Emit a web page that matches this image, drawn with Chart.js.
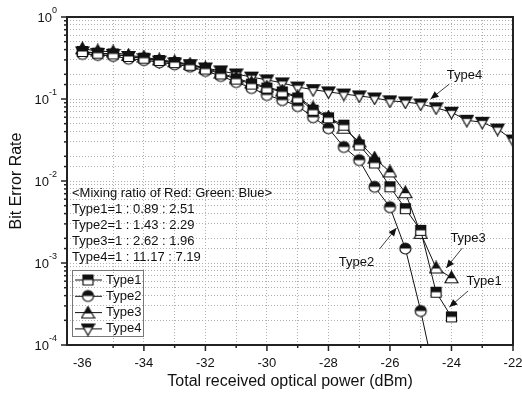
<html>
  <head>
    <script src="https://cdn.jsdelivr.net/npm/chart.js@4.4.0/dist/chart.umd.min.js"></script>
  </head>
  <body style="margin:0;background:#fff">
    <canvas id="myChart" width="522" height="396"></canvas>
    <script>
      // received power (dBm), 0.5 dB steps
      const power = [-36, -35.5, -35, -34.5, -34, -33.5, -33, -32.5, -32, -31.5, -31, -30.5, -30, -29.5, -29,
                     -28.5, -28, -27.5, -27, -26.5, -26, -25.5, -25, -24.5, -24, -23.5, -23, -22.5, -22];

      // bit error rate
      const type1 = [0.38, 0.362, 0.355, 0.33, 0.315, 0.295, 0.278, 0.258, 0.232, 0.202, 0.175, 0.152, 0.136, 0.122, 0.103,
                     0.073, 0.059, 0.048, 0.0275, 0.0166, 0.0085, 0.0046, 0.0025, 0.00044, 0.00022];
      const type2 = [0.355, 0.345, 0.335, 0.31, 0.298, 0.28, 0.265, 0.248, 0.22, 0.191, 0.161, 0.136, 0.112, 0.097, 0.082,
                     0.060, 0.044, 0.026, 0.018, 0.0085, 0.0048, 0.0015, 0.00026, 0.000035];
      const type3 = [0.41, 0.385, 0.375, 0.34, 0.325, 0.30, 0.285, 0.265, 0.239, 0.207, 0.18, 0.157, 0.14, 0.125, 0.106,
                     0.078, 0.060, 0.044, 0.030, 0.019, 0.0129, 0.0072, 0.0023, 0.00087, 0.00066];
      const type4 = [0.375, 0.36, 0.35, 0.33, 0.31, 0.29, 0.275, 0.262, 0.239, 0.22, 0.202, 0.185, 0.171, 0.157, 0.14,
                     0.13, 0.122, 0.115, 0.109, 0.103, 0.095, 0.092, 0.087, 0.078, 0.069, 0.055, 0.052, 0.043, 0.0316];

      const seriesNames = ["Type1", "Type2", "Type3", "Type4"];

      // tick labels
      const xTickValues = [-36, -34, -32, -30, -28, -26, -24, -22];
      const xTickLabels = ["-36", "-34", "-32", "-30", "-28", "-26", "-24", "-22"];
      const yTickValues = [1, 0.1, 0.01, 0.001, 0.0001];
      const yTickExps = ["0", "-1", "-2", "-3", "-4"];

      const ratioLines = ["<Mixing ratio of Red: Green: Blue>", "Type1=1 : 0.89 : 2.51", "Type2=1 : 1.43 : 2.29",
                          "Type3=1 : 2.62 : 1.96", "Type4=1 : 11.17 : 7.19"];

      // callouts: label, text position, arrow from, arrow to (data coords)
      const callouts = [
        {text: "Type4", at: [-23.58, 0.196], from: [-24.07, 0.152], to: [-24.68, 0.1]},
        {text: "Type2", at: [-27.09, 0.00103], from: [-26.34, 0.00148], to: [-25.79, 0.00267]},
        {text: "Type3", at: [-23.46, 0.00202], from: [-23.65, 0.00152], to: [-24.17, 0.00087]},
        {text: "Type1", at: [-22.94, 0.00059], from: [-23.46, 0.000456], to: [-24.07, 0.00029]}
      ];

      const FONT = "'Liberation Sans', Arial, sans-serif";
      const INK = "#111";

      // half filled markers (top part black)
      function makeMarker(shape) {
        const s = 15, c = document.createElement("canvas");
        c.width = s; c.height = s;
        const g = c.getContext("2d");
        g.translate(s / 2, s / 2);
        g.beginPath();
        let split = 0;
        if (shape === "square") { g.rect(-5, -5, 10, 10); split = 0; }
        else if (shape === "circle") { g.arc(0, 0, 5.5, 0, Math.PI * 2); split = 0; }
        else if (shape === "up") { g.moveTo(0, -6.5); g.lineTo(6.5, 5); g.lineTo(-6.5, 5); g.closePath(); split = 0.5; }
        else { g.moveTo(-6.5, -5); g.lineTo(6.5, -5); g.lineTo(0, 6.5); g.closePath(); split = -1.3; }
        g.fillStyle = "#fff"; g.fill();
        g.save(); g.clip();
        g.fillStyle = INK; g.fillRect(-8, -8, 16, 8 + split);
        g.restore();
        g.lineWidth = 1.2; g.strokeStyle = INK; g.stroke();
        return c;
      }
      const markers = [makeMarker("square"), makeMarker("circle"), makeMarker("up"), makeMarker("down")];

      function toPoints(vals) {
        return vals.map((v, i) => ({x: power[i], y: v}));
      }

      function arrow(ctx, x1, y1, x2, y2) {
        ctx.beginPath(); ctx.moveTo(x1, y1); ctx.lineTo(x2, y2); ctx.stroke();
        const ang = Math.atan2(y2 - y1, x2 - x1), L = 8, W = 3.5;
        ctx.beginPath();
        ctx.moveTo(x2, y2);
        ctx.lineTo(x2 - L * Math.cos(ang) + W * Math.sin(ang), y2 - L * Math.sin(ang) - W * Math.cos(ang));
        ctx.lineTo(x2 - L * Math.cos(ang) - W * Math.sin(ang), y2 - L * Math.sin(ang) + W * Math.cos(ang));
        ctx.closePath(); ctx.fill();
      }

      // frame, ticks, labels, text block, legend, callouts
      const decor = {
        id: "decor",
        afterDraw(chart) {
          const ctx = chart.ctx, a = chart.chartArea, xs = chart.scales.x, ys = chart.scales.y;
          ctx.save();
          ctx.strokeStyle = "#222"; ctx.fillStyle = INK;

          // tick marks (outside)
          ctx.lineWidth = 1.5;
          xs.ticks.forEach(t => {
            if (t.value % 1 !== 0) return;
            const px = xs.getPixelForValue(t.value);
            const len = t.value % 2 === 0 ? 6 : 3;
            ctx.beginPath(); ctx.moveTo(px, a.bottom); ctx.lineTo(px, a.bottom + len); ctx.stroke();
          });
          ys.ticks.forEach(t => {
            const lg = Math.log10(t.value);
            const major = Math.abs(lg - Math.round(lg)) < 1e-6;
            const py = ys.getPixelForValue(t.value);
            ctx.beginPath(); ctx.moveTo(a.left, py); ctx.lineTo(a.left - (major ? 6 : 3), py); ctx.stroke();
          });

          // frame
          ctx.lineWidth = 2;
          ctx.strokeRect(a.left, a.top, a.right - a.left, a.bottom - a.top);

          // tick labels
          ctx.font = "13px " + FONT;
          ctx.textAlign = "center"; ctx.textBaseline = "middle";
          xTickValues.forEach((v, i) => ctx.fillText(xTickLabels[i], xs.getPixelForValue(v), a.bottom + 18));
          yTickValues.forEach((v, i) => {
            const py = ys.getPixelForValue(v);
            ctx.font = "9px " + FONT;
            const ew = ctx.measureText(yTickExps[i]).width;
            ctx.textAlign = "right";
            ctx.fillText(yTickExps[i], a.left - 10, py - 6);
            ctx.font = "13px " + FONT;
            ctx.fillText("10", a.left - 10 - ew, py + 1);
          });

          // axis titles
          ctx.font = "16px " + FONT;
          ctx.textAlign = "center";
          ctx.fillText("Total received optical power (dBm)", (a.left + a.right) / 2, a.bottom + 37);
          ctx.save();
          ctx.translate(17, (a.top + a.bottom) / 2);
          ctx.rotate(-Math.PI / 2);
          ctx.fillText("Bit Error Rate", 0, 0);
          ctx.restore();

          // mixing ratio text
          ctx.font = "13px " + FONT;
          ctx.textAlign = "left";
          ratioLines.forEach((s, i) => ctx.fillText(s, a.left + 5, 193 + i * 16.2));

          // legend box
          ctx.lineWidth = 1; ctx.strokeStyle = "#777";
          ctx.strokeRect(72.5, 270.5, 71, 66);
          ctx.strokeStyle = INK;
          seriesNames.forEach((name, i) => {
            const y = 280 + i * 16.3;
            ctx.beginPath(); ctx.moveTo(75, y); ctx.lineTo(102, y); ctx.stroke();
            ctx.drawImage(markers[i], 88 - 7.5, Math.round(y) - 7.5);
            ctx.fillText(name, 106, y);
          });

          // callouts
          ctx.lineWidth = 0.8;
          callouts.forEach(c => {
            ctx.textAlign = "center";
            ctx.fillText(c.text, xs.getPixelForValue(c.at[0]), ys.getPixelForValue(c.at[1]));
            arrow(ctx, xs.getPixelForValue(c.from[0]), ys.getPixelForValue(c.from[1]),
                  xs.getPixelForValue(c.to[0]), ys.getPixelForValue(c.to[1]));
          });
          ctx.restore();
        }
      };

      const seriesData = [type1, type2, type3, type4];
      const ctx = document.getElementById("myChart").getContext("2d");
      new Chart(ctx, {
        type: "line",
        data: {
          datasets: seriesData.map((vals, i) => ({
            label: seriesNames[i],
            data: toPoints(vals),
            borderColor: INK,
            borderWidth: 1,
            pointStyle: markers[i],
            pointRadius: 5,
            fill: false,
            tension: 0
          }))
        },
        options: {
          responsive: false,
          animation: false,
          layout: {padding: {left: 67, right: 9, top: 17, bottom: 51}},
          plugins: {legend: {display: false}, tooltip: {enabled: false}},
          scales: {
            x: {
              type: "linear", min: -36.5, max: -22,
              ticks: {display: false, stepSize: 1},
              grid: {color: "#b0b0b0", lineWidth: 1, drawTicks: false},
              border: {display: false, dash: [1, 2]}
            },
            y: {
              type: "logarithmic", min: 0.0001, max: 1,
              ticks: {display: false},
              grid: {color: "#b0b0b0", lineWidth: 1, drawTicks: false},
              border: {display: false, dash: [1, 2]}
            }
          }
        },
        plugins: [decor]
      });
    </script>
  </body>
</html>
